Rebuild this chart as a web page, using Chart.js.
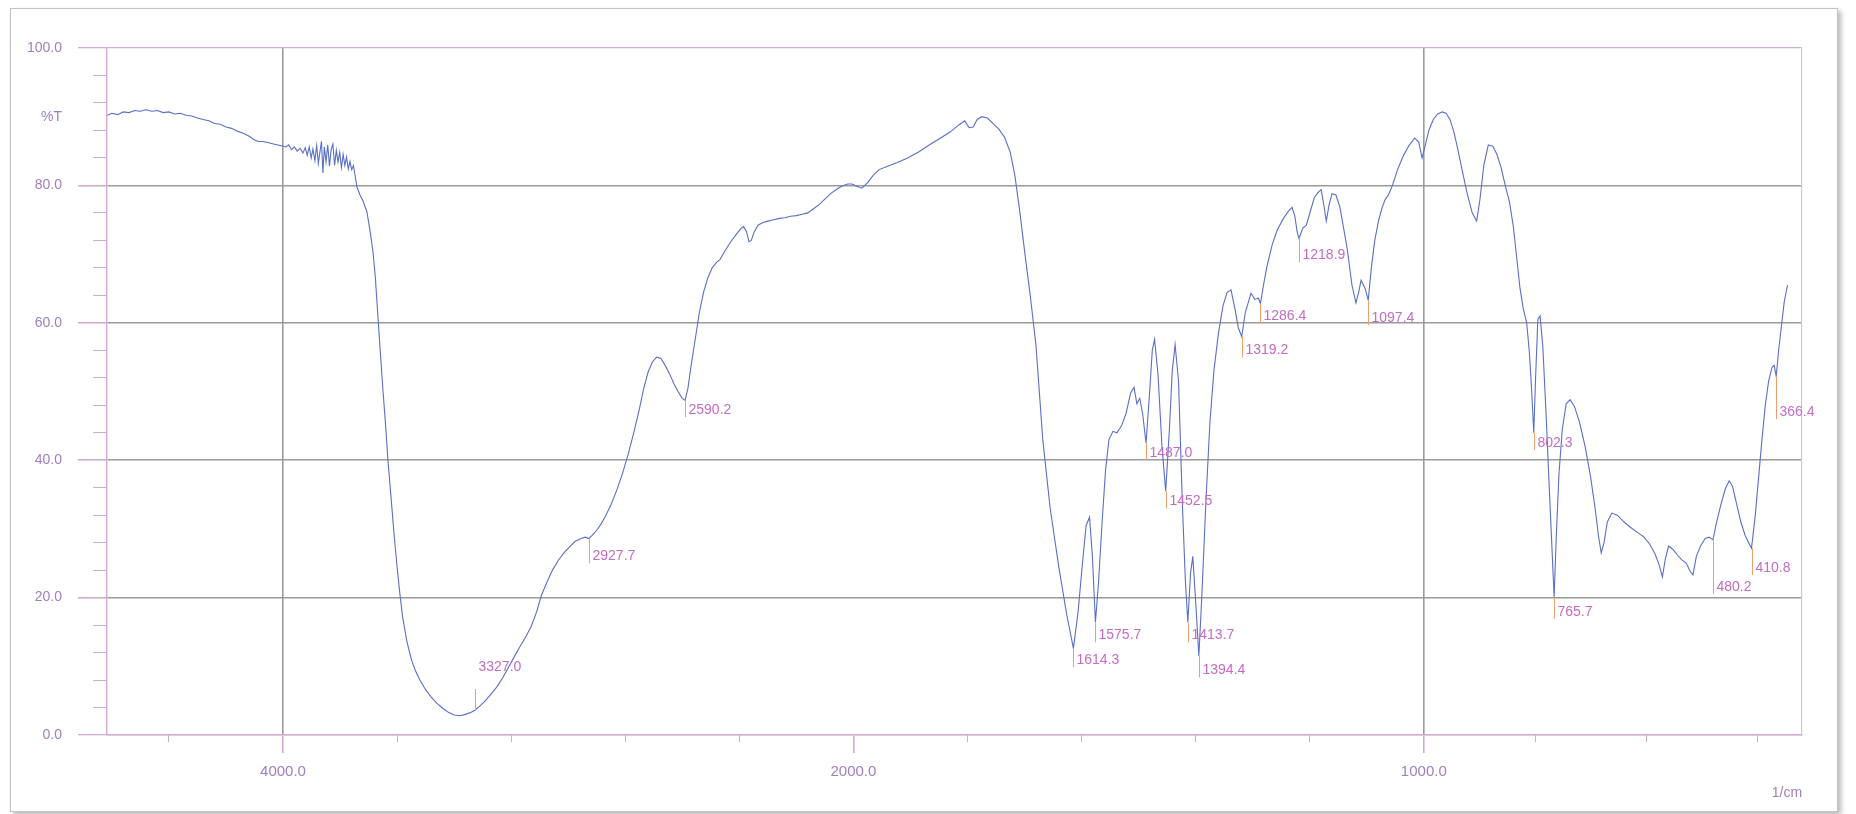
<!DOCTYPE html>
<html>
<head>
<meta charset="utf-8">
<script src="https://cdn.jsdelivr.net/npm/chart.js@4.4.1/dist/chart.umd.min.js"></script>
<style>
html, body { margin: 0; padding: 0; background: #fff; }
#frame { position: absolute; left: 10px; top: 8px; width: 1826px; height: 802px; border: 1px solid #c2c2c2; box-shadow: 3px 3px 5px rgba(0,0,0,0.28); background: #fff; }
#wrap { position: absolute; left: 0; top: 0; width: 1856px; height: 814px; }
</style>
</head>
<body>
<div id="frame"></div>
<div id="wrap"><canvas id="chart" width="1856" height="814"></canvas></div>
<script>
// spectrum (1/cm, %T)
const wavenumbers = [
  4615, 4600, 4580, 4560, 4540, 4520, 4500, 4480, 4460, 4440, 4420, 4400, 4380, 4360, 4340, 4320,
  4300, 4280, 4260, 4240, 4220, 4200, 4180, 4160, 4140, 4120, 4100, 4085, 4070, 4050, 4030, 4010,
  3990, 3980, 3970, 3960, 3950, 3940, 3930, 3922, 3915, 3908, 3901, 3895, 3888, 3882, 3876, 3870,
  3865, 3860, 3855, 3849, 3843, 3837, 3831, 3825, 3819, 3813, 3807, 3801, 3795, 3789, 3783, 3777,
  3771, 3765, 3759, 3753, 3747, 3741, 3730, 3720, 3706, 3695,
  3684, 3676, 3668, 3660, 3650, 3640, 3632, 3620, 3610, 3600, 3590, 3580, 3565, 3550, 3535, 3520,
  3500, 3480, 3460, 3440, 3420, 3400, 3380, 3360, 3340, 3327.0, 3310, 3290, 3270, 3250, 3230, 3210,
  3190, 3170, 3150, 3130, 3110, 3095, 3075, 3055, 3035, 3015, 2995, 2975, 2955, 2940, 2927.7, 2915,
  2900, 2885, 2870, 2850, 2830, 2810, 2790, 2770, 2750, 2735, 2720, 2705, 2690, 2675, 2660, 2645,
  2630, 2615, 2600, 2590.2, 2580, 2570, 2555, 2540, 2525, 2510, 2495, 2480, 2468, 2450, 2430, 2410,
  2395, 2385, 2375, 2366, 2358, 2348, 2335, 2317, 2300, 2280, 2260, 2240, 2220, 2200, 2180, 2160,
  2140, 2120, 2100, 2080, 2060, 2040, 2020, 2005, 1995, 1985, 1975, 1965, 1955, 1940, 1924, 1905,
  1885, 1865, 1845, 1830, 1815, 1805, 1797, 1790, 1783, 1775, 1765, 1755, 1745, 1735, 1725, 1717,
  1708, 1700, 1690, 1680, 1668, 1655, 1640, 1626, 1614.3, 1606, 1599, 1592, 1586, 1581, 1575.7, 1570,
  1564, 1558, 1552, 1545, 1538, 1530, 1522, 1514, 1508, 1503, 1498, 1493, 1487.0, 1481, 1476, 1472,
  1466, 1459, 1452.5, 1446, 1441, 1436, 1430, 1423, 1418, 1413.7, 1409, 1405, 1400, 1394.4, 1389, 1382,
  1375, 1368, 1360, 1352, 1345, 1338, 1331, 1325, 1319.2, 1313, 1303, 1296, 1290, 1286.4, 1281, 1275,
  1266, 1257, 1246, 1237, 1231, 1226, 1222, 1218.9, 1212, 1206, 1199, 1192, 1186, 1180, 1175, 1171,
  1166, 1161, 1154, 1147, 1140, 1134, 1126, 1119, 1114, 1110, 1103, 1097.4, 1092, 1086, 1079, 1073,
  1068, 1062, 1055, 1046, 1036, 1026, 1016, 1009, 1003, 998, 991, 983, 975, 967, 960, 953,
  946, 939, 931, 922, 913, 905, 899, 892, 884, 876, 869, 861, 853, 846, 839, 833,
  827, 821, 815, 810, 806, 802.3, 799, 795, 791, 786, 780, 775, 770, 765.7, 762, 757,
  751, 744, 737, 729, 720, 710, 700, 692, 686, 681, 676, 670, 662, 652, 640, 628,
  616, 604, 594, 584, 577, 571, 566, 560, 552, 544, 536, 528, 521, 516, 510, 502,
  494, 487, 480.2, 474, 466, 458, 451, 445, 438, 430, 422, 416, 410.8, 404, 398, 392,
  386, 380, 374, 370, 366.4, 362, 357, 352, 346
];
const transmittance = [
  90.2, 90.5, 90.3, 90.7, 90.6, 90.9, 90.8, 91.0, 90.8, 90.9, 90.6, 90.7, 90.4, 90.5, 90.2, 90.1,
  89.8, 89.6, 89.4, 89.0, 88.9, 88.5, 88.3, 87.9, 87.6, 87.2, 86.6, 86.4, 86.4, 86.2, 86.0, 85.8,
  85.6, 85.9, 85.2, 85.6, 85.0, 85.4, 84.7, 85.5, 84.4, 85.6, 84.0, 85.3, 83.6, 85.8, 83.2, 85.0,
  86.4, 81.8, 85.6, 83.4, 85.9, 82.8, 85.2, 86.0, 82.9, 85.1, 83.4, 84.8, 82.6, 84.5, 82.9, 84.1,
  82.4, 83.5, 82.3, 82.9, 81.4, 79.8, 78.6, 77.8, 76.2, 73.5,
  70.2, 66.5, 61.5, 56.5, 50.5, 45.0, 40.0, 34.0, 29.0, 24.5, 20.5, 17.0, 13.5, 11.0, 9.3, 8.0,
  6.6, 5.5, 4.6, 3.9, 3.3, 2.9, 2.8, 3.0, 3.3, 3.6, 4.2, 5.0, 6.0, 7.0, 8.3, 9.8,
  11.3, 12.8, 14.2, 15.8, 18.0, 20.2, 22.2, 24.0, 25.4, 26.5, 27.4, 28.2, 28.6, 28.8, 28.6, 29.1,
  29.8, 30.7, 31.8, 33.5, 35.6, 38.0, 40.8, 44.0, 47.5, 50.5, 52.8, 54.3, 55.0, 54.8, 53.8, 52.6,
  51.2, 50.0, 49.0, 48.7, 50.5, 53.5, 57.5, 61.5, 64.5, 66.6, 68.0, 68.8, 69.2, 70.5, 71.8, 72.9,
  73.7, 74.0, 73.3, 71.8, 72.0, 73.2, 74.2, 74.6, 74.8, 75.0, 75.2, 75.3, 75.5, 75.6, 75.8, 76.0,
  76.6, 77.2, 78.0, 78.8, 79.4, 79.9, 80.2, 80.2, 79.9, 79.6, 80.4, 81.5, 82.3, 82.8, 83.3, 84.0,
  84.9, 86.0, 87.0, 87.8, 88.8, 89.4, 88.4, 88.5, 89.6, 90.0, 89.8, 89.0, 88.2, 87.0, 84.8, 81.5,
  76.0, 70.5, 64.0, 56.8, 43.0, 33.0, 24.5, 17.5, 12.6, 18.0, 24.5, 30.5, 31.7, 26.0, 16.4, 22.5,
  31.0, 38.5, 43.0, 44.2, 44.0, 45.0, 46.8, 49.8, 50.6, 48.2, 49.0, 46.8, 42.5, 49.5, 56.0, 57.6,
  52.5, 42.0, 35.5, 44.5, 53.0, 56.8, 51.5, 33.0, 22.5, 16.4, 23.5, 26.0, 19.5, 11.5, 20.5, 34.0,
  45.5, 53.0, 58.5, 62.5, 64.4, 64.8, 62.0, 59.2, 58.0, 61.5, 64.3, 63.4, 63.6, 62.8, 65.5, 68.2,
  71.3, 73.5, 75.2, 76.3, 76.8, 75.5, 73.2, 72.3, 73.8, 74.2, 76.2, 78.2, 78.9, 79.4, 77.0, 74.8,
  77.2, 78.8, 78.6, 76.8, 73.5, 70.6, 65.5, 62.9, 64.5, 66.2, 65.0, 63.3, 68.0, 72.0, 75.0, 76.8,
  77.9, 78.6, 80.0, 82.3, 84.3, 85.8, 86.9, 86.3, 84.0, 85.6, 88.0, 89.6, 90.4, 90.7, 90.5, 89.6,
  87.8, 85.3, 82.2, 78.8, 76.0, 74.8, 78.0, 83.0, 85.9, 85.7, 84.6, 82.6, 79.8, 77.6, 74.0, 69.5,
  65.0, 62.0, 60.0, 55.5, 50.0, 44.0, 52.0, 60.5, 61.0, 56.5, 46.5, 37.0, 28.0, 20.0, 28.5, 38.0,
  44.5, 48.2, 48.8, 47.8, 45.5, 42.0, 37.5, 33.0, 29.0, 26.5, 28.0, 31.0, 32.3, 32.0, 31.0, 30.2,
  29.5, 28.8, 27.8, 26.3, 24.8, 23.0, 25.5, 27.5, 27.0, 26.2, 25.5, 25.0, 23.8, 23.3, 26.0, 27.6,
  28.6, 28.8, 28.4, 30.8, 33.5, 35.8, 37.0, 36.2, 33.8, 31.0, 29.0, 28.0, 27.2, 32.0, 37.5, 43.0,
  48.0, 51.5, 53.5, 53.8, 52.2, 56.0, 59.5, 63.0, 65.5
];

// picked peaks and where their labels sit (in %T)
const peakWavenumbers = [3327.0, 2927.7, 2590.2, 1614.3, 1575.7, 1487.0, 1452.5, 1413.7, 1394.4,
  1319.2, 1286.4, 1218.9, 1097.4, 802.3, 765.7, 480.2, 410.8, 366.4];
const peakLabelLevels = [9.9, 26.0, 47.3, 10.9, 14.5, 41.0, 34.0, 14.5, 9.4,
  56.0, 61.0, 69.8, 60.7, 42.5, 17.9, 21.5, 24.3, 47.0];

const xLabelWavenumbers = [4000, 2000, 1000];
const xTickLabels = ['4000.0', '2000.0', '1000.0'];
const xMinorWavenumbers = [4400, 3600, 3200, 2800, 2400, 1800, 1600, 1400, 1200, 800, 600, 400];
const yMajorTicks = [0, 20, 40, 60, 80, 90, 100];
const yTickLabels = ['0.0', '20.0', '40.0', '60.0', '80.0', '%T', '100.0'];

const X_MAX = 4617, X_MIN = 320;

// 4000-2000 is drawn at half scale, as on the print
function toAxis(w) {
  if (w >= 2000) return 2000 + (w - 2000) / 2;
  if (w >= 1000) return w;
  return 1000 - (1000 - w) * 0.975;
}

const LABEL = '#a27fba';
const PINK = '#d2abd0';
const GRID = '#9a9a9a';
const CLEAR = 'rgba(0,0,0,0)';
const FONT = '"Liberation Sans", Arial, sans-serif';

Chart.defaults.font.family = FONT;

const peakMarks = {
  id: 'peakMarks',
  afterDatasetsDraw(chart) {
    const {ctx, scales: {x, y}} = chart;
    ctx.save();
    ctx.font = '14px ' + FONT;
    ctx.textBaseline = 'middle';
    ctx.textAlign = 'left';
    peakWavenumbers.forEach((w, i) => {
      const t = transmittance[wavenumbers.indexOf(w)];
      const px = Math.round(x.getPixelForValue(toAxis(w))) + 0.5;
      const py = y.getPixelForValue(t);
      const ly = y.getPixelForValue(peakLabelLevels[i]);
      const end = peakLabelLevels[i] > t ? ly + 22 : ly + 7;
      ctx.strokeStyle = '#f0a070';
      ctx.lineWidth = 1;
      ctx.beginPath();
      ctx.moveTo(px, py);
      ctx.lineTo(px, end);
      ctx.stroke();
      ctx.fillStyle = '#c46cc4';
      ctx.fillText(w.toFixed(1), px + 3, ly);
    });
    ctx.restore();
  }
};

const unitLabel = {
  id: 'unitLabel',
  afterDraw(chart) {
    const {ctx, chartArea} = chart;
    ctx.save();
    ctx.font = '14px ' + FONT;
    ctx.fillStyle = LABEL;
    ctx.textAlign = 'center';
    ctx.textBaseline = 'middle';
    ctx.fillText('1/cm', chartArea.right - 15, chartArea.bottom + 58);
    ctx.restore();
  }
};

new Chart(document.getElementById('chart'), {
  type: 'line',
  data: {
    datasets: [{
      data: wavenumbers.map((w, i) => ({x: toAxis(w), y: transmittance[i]})),
      borderColor: '#5a6fc6',
      borderWidth: 1.1,
      pointRadius: 0,
      tension: 0,
      fill: false
    }]
  },
  options: {
    responsive: false,
    animation: false,
    layout: {padding: {left: 0, top: 48, right: 54, bottom: 35}},
    plugins: {legend: {display: false}, tooltip: {enabled: false}},
    scales: {
      x: {
        type: 'linear',
        reverse: true,
        min: toAxis(X_MIN),
        max: toAxis(X_MAX),
        weight: 1,
        afterBuildTicks: (axis) => { axis.ticks = xLabelWavenumbers.map(w => ({value: toAxis(w)})); },
        afterFit: (axis) => { axis.height = 44; },
        ticks: {
          autoSkip: false,
          maxRotation: 0,
          padding: 10,
          color: LABEL,
          font: {size: 15},
          callback: (value, index) => xTickLabels[index]
        },
        grid: {
          color: (c) => (c.tick && c.tick.value === 2000 ? CLEAR : GRID),
          lineWidth: 1.6,
          tickColor: PINK,
          tickLength: 18
        },
        border: {color: PINK, width: 1.4}
      },
      x2: {
        type: 'linear',
        position: 'bottom',
        reverse: true,
        min: toAxis(X_MIN),
        max: toAxis(X_MAX),
        weight: 0,
        afterBuildTicks: (axis) => { axis.ticks = xMinorWavenumbers.map(w => ({value: toAxis(w)})); },
        afterFit: (axis) => { axis.height = 0; },
        ticks: {display: false},
        grid: {drawOnChartArea: false, tickColor: PINK, tickLength: 7},
        border: {display: false}
      },
      y: {
        type: 'linear',
        position: 'left',
        min: 0,
        max: 100,
        weight: 1,
        afterBuildTicks: (axis) => { axis.ticks = yMajorTicks.map(v => ({value: v})); },
        afterFit: (axis) => { axis.width = 107; },
        ticks: {
          padding: 16,
          color: LABEL,
          font: {size: 14},
          callback: (value, index) => yTickLabels[index]
        },
        grid: {
          color: (c) => {
            const v = c.tick && c.tick.value;
            if (v === 90) return CLEAR;
            return (v === 0 || v === 100) ? PINK : GRID;
          },
          lineWidth: (c) => (c.tick && (c.tick.value === 0 || c.tick.value === 100) ? 1.3 : 1.6),
          tickColor: (c) => (c.tick && c.tick.value === 90 ? CLEAR : PINK),
          tickLength: 29
        },
        border: {color: PINK, width: 1.4}
      },
      y2: {
        type: 'linear',
        position: 'left',
        min: 0,
        max: 100,
        weight: 0,
        afterBuildTicks: (axis) => {
          const t = [];
          for (let v = 4; v < 100; v += 4) if (v % 20 !== 0) t.push({value: v});
          axis.ticks = t;
        },
        afterFit: (axis) => { axis.width = 0; },
        ticks: {display: false},
        grid: {drawOnChartArea: false, tickColor: PINK, tickLength: 14},
        border: {display: false}
      },
      yr: {
        type: 'linear',
        position: 'right',
        min: 0,
        max: 100,
        afterFit: (axis) => { axis.width = 0; },
        ticks: {display: false},
        grid: {drawOnChartArea: false, drawTicks: false},
        border: {color: '#d6c4d6', width: 1.2}
      }
    }
  },
  plugins: [peakMarks, unitLabel]
});
</script>
</body>
</html>
